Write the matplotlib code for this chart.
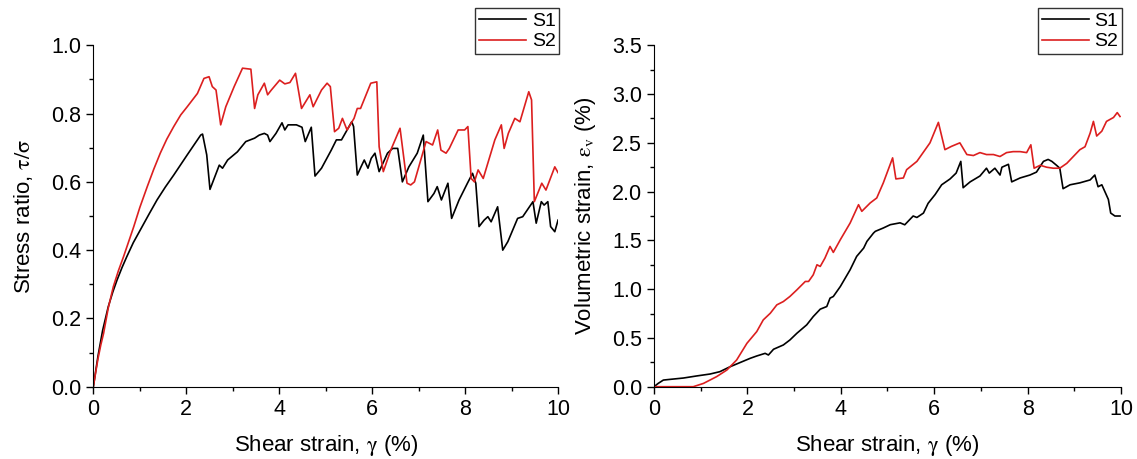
import matplotlib
matplotlib.use("Agg")
import matplotlib.pyplot as plt
from matplotlib.ticker import MultipleLocator

plt.rcParams['font.family'] = ['Liberation Sans', 'DejaVu Sans']
plt.rcParams['mathtext.fontset'] = 'stix'

# stress ratio vs shear strain
s1_x = [0, 0.05, 0.1, 0.2, 0.32, 0.42, 0.51, 0.62, 0.72, 0.86, 1.01, 1.2, 1.37, 1.55, 1.73,
        2.02, 2.31, 2.35, 2.44, 2.51, 2.60, 2.71, 2.78,
        2.89, 3.10, 3.28, 3.47, 3.57, 3.68, 3.75, 3.80, 3.93, 4.06, 4.12, 4.19, 4.37, 4.49,
        4.56, 4.69, 4.77, 4.91, 5.12, 5.23, 5.34, 5.56, 5.60, 5.68, 5.76, 5.83, 5.91, 5.98,
        6.06, 6.15, 6.33, 6.44, 6.55, 6.65, 6.79, 6.97, 7.10, 7.20, 7.33, 7.40, 7.49, 7.63,
        7.71, 7.87, 8.05, 8.16, 8.23, 8.30, 8.41, 8.49, 8.56, 8.70, 8.81, 8.92, 9.13, 9.24,
        9.46, 9.53, 9.64, 9.70, 9.78, 9.84, 9.93, 10.0]
s1_y = [0, 0.045, 0.09, 0.165, 0.234, 0.278, 0.3125, 0.35, 0.381, 0.422, 0.459, 0.506, 0.547,
        0.585, 0.62, 0.679, 0.737, 0.74, 0.679, 0.578, 0.61,
        0.649, 0.64, 0.664, 0.688, 0.718, 0.728, 0.737, 0.742, 0.737, 0.718, 0.742, 0.773,
        0.752, 0.767, 0.767, 0.76, 0.718, 0.76, 0.617, 0.64, 0.693, 0.723, 0.723, 0.776,
        0.762, 0.62, 0.644, 0.664, 0.64, 0.669, 0.684, 0.63, 0.684, 0.698, 0.698, 0.60,
        0.644, 0.684, 0.737, 0.542, 0.566, 0.586, 0.547, 0.596, 0.493, 0.547, 0.596, 0.625,
        0.596, 0.469, 0.488, 0.498, 0.483, 0.527, 0.40, 0.425, 0.493, 0.498, 0.542, 0.479,
        0.542, 0.532, 0.542, 0.469, 0.454, 0.488]

s2_x = [0, 0.05, 0.1, 0.16, 0.22, 0.32, 0.43, 0.54, 0.65, 0.76, 0.87, 1.0, 1.16, 1.3, 1.44,
        1.58, 1.73, 1.88, 2.02, 2.24, 2.38, 2.49, 2.56, 2.64,
        2.74, 2.85, 3.03, 3.21, 3.39, 3.47, 3.54, 3.68, 3.75, 3.83, 4.01, 4.12, 4.23, 4.35,
        4.48, 4.66, 4.73, 4.91, 5.03, 5.10, 5.19, 5.28, 5.36, 5.46, 5.61, 5.68, 5.75, 5.97,
        6.10, 6.15, 6.24, 6.40, 6.60, 6.75, 6.83, 6.91, 7.16, 7.30, 7.41, 7.48, 7.59, 7.66,
        7.85, 7.99, 8.06, 8.13, 8.20, 8.28, 8.39, 8.64, 8.78, 8.84, 8.93, 9.07, 9.18, 9.37,
        9.43, 9.49, 9.65, 9.74, 9.93, 10.0]
s2_y = [0, 0.042, 0.082, 0.122, 0.156, 0.23, 0.293, 0.34, 0.381, 0.425, 0.469, 0.525, 0.586,
        0.637, 0.684, 0.725, 0.762, 0.796, 0.82, 0.859, 0.903, 0.908,
        0.879, 0.869, 0.767, 0.82, 0.879, 0.933, 0.93, 0.815, 0.855, 0.889, 0.855, 0.869,
        0.898, 0.887, 0.891, 0.918, 0.815, 0.855, 0.82, 0.869, 0.889, 0.879, 0.747, 0.757,
        0.786, 0.752, 0.786, 0.815, 0.815, 0.889, 0.893, 0.703, 0.63, 0.693, 0.757, 0.596,
        0.591, 0.60, 0.718, 0.708, 0.752, 0.693, 0.684, 0.698, 0.752, 0.752, 0.762, 0.61,
        0.60, 0.635, 0.61, 0.723, 0.767, 0.698, 0.742, 0.786, 0.776, 0.864, 0.84, 0.542,
        0.596, 0.576, 0.644, 0.627]

# volumetric strain vs shear strain
v1_x = [0, 0.09, 0.2, 0.34, 0.63, 0.91, 1.2, 1.41, 1.63, 1.84, 2.06, 2.2, 2.38, 2.45, 2.56,
        2.77, 2.91, 3.06, 3.27, 3.41, 3.56, 3.7, 3.77, 3.84, 3.99, 4.2, 4.34, 4.49, 4.56,
        4.7, 4.74, 4.91, 5.06, 5.27, 5.37, 5.55, 5.63, 5.77, 5.87, 6.02, 6.16, 6.34, 6.47,
        6.57, 6.62, 6.77, 6.98, 7.12, 7.18, 7.30, 7.41, 7.45, 7.59, 7.66, 7.84, 8.05, 8.19,
        8.34, 8.44, 8.52, 8.62, 8.69, 8.76, 8.91, 9.12, 9.34, 9.44, 9.51, 9.59, 9.73, 9.78,
        9.87, 9.98]
v1_y = [0, 0.034, 0.068, 0.075, 0.089, 0.11, 0.13, 0.154, 0.205, 0.247, 0.291, 0.315, 0.342,
        0.325, 0.384, 0.428, 0.479, 0.548, 0.634, 0.719, 0.795, 0.822, 0.908, 0.925, 1.027,
        1.199, 1.336, 1.421, 1.49, 1.575, 1.593, 1.627, 1.661, 1.68, 1.66, 1.75, 1.735, 1.78,
        1.88, 1.97, 2.07, 2.13, 2.19, 2.31, 2.04, 2.10, 2.16, 2.24, 2.19, 2.24, 2.17, 2.25,
        2.28, 2.10, 2.14, 2.17, 2.20, 2.31, 2.33, 2.31, 2.27, 2.24, 2.03, 2.07, 2.09, 2.12,
        2.17, 2.05, 2.07, 1.92, 1.78, 1.75, 1.75]

v2_x = [0, 0.27, 0.84, 1.06, 1.34, 1.56, 1.77, 1.99, 2.2, 2.34, 2.49, 2.63, 2.77, 2.91, 3.06,
        3.24, 3.31, 3.41, 3.49, 3.56, 3.66, 3.77, 3.84, 3.99, 4.2, 4.38, 4.45, 4.63, 4.77,
        4.91, 5.11, 5.18, 5.34, 5.41, 5.63, 5.91, 6.09, 6.23, 6.37, 6.55, 6.70, 6.84, 6.98,
        7.12, 7.27, 7.41, 7.55, 7.69, 7.84, 7.98, 8.07, 8.14, 8.27, 8.41, 8.55, 8.69, 8.84,
        8.98, 9.12, 9.23, 9.34, 9.41, 9.48, 9.59, 9.69, 9.84, 9.92, 9.98]
v2_y = [0, 0, 0, 0.034, 0.103, 0.171, 0.274, 0.445, 0.565, 0.685, 0.753, 0.839, 0.873, 0.925,
        0.993, 1.079, 1.079, 1.147, 1.25, 1.233, 1.318, 1.438, 1.377, 1.507, 1.678, 1.866,
        1.798, 1.884, 1.935, 2.089, 2.346, 2.13, 2.14, 2.225, 2.31, 2.50, 2.71, 2.43, 2.464,
        2.50, 2.38, 2.37, 2.40, 2.38, 2.38, 2.36, 2.40, 2.41, 2.41, 2.40, 2.48, 2.24, 2.27,
        2.25, 2.24, 2.24, 2.29, 2.36, 2.43, 2.46, 2.60, 2.72, 2.57, 2.62, 2.72, 2.76, 2.81,
        2.77]

red = '#dc1f1f'
fig = plt.figure(figsize=(11.37, 4.59), dpi=100)
ax1 = fig.add_axes([0.0821, 0.1575, 0.4087, 0.7438])
ax2 = fig.add_axes([0.5752, 0.1575, 0.4107, 0.7438])

ax1.plot(s1_x, s1_y, color='black', lw=1.2, label='S1')
ax1.plot(s2_x, s2_y, color=red, lw=1.2, label='S2')
ax2.plot(v1_x, v1_y, color='black', lw=1.2, label='S1')
ax2.plot(v2_x, v2_y, color=red, lw=1.2, label='S2')

ax1.set_ylim(0, 1.0)
ax1.yaxis.set_major_locator(MultipleLocator(0.2))
ax1.yaxis.set_minor_locator(MultipleLocator(0.1))
ax1.set_ylabel(r'Stress ratio, $\mathrm{\tau/\sigma}$', fontsize=16, labelpad=12)

ax2.set_ylim(0, 3.5)
ax2.yaxis.set_major_locator(MultipleLocator(0.5))
ax2.yaxis.set_minor_locator(MultipleLocator(0.25))
ax2.set_ylabel(r'Volumetric strain, $\mathrm{\varepsilon_v}$ (%)', fontsize=16, labelpad=10)

for ax in (ax1, ax2):
    ax.set_xlim(0, 10)
    ax.xaxis.set_major_locator(MultipleLocator(2))
    ax.xaxis.set_minor_locator(MultipleLocator(1))
    ax.set_xlabel(r'Shear strain, $\mathrm{\gamma}$ (%)', fontsize=16, labelpad=10)
    ax.spines['top'].set_visible(False)
    ax.spines['right'].set_visible(False)
    ax.tick_params(which='major', direction='out', length=5, width=1, labelsize=15.5)
    ax.tick_params(which='minor', direction='out', length=3, width=1)
    leg = ax.legend(loc='upper right', bbox_to_anchor=(1.003, 1.108), borderaxespad=0,
                    fancybox=False, edgecolor='black', fontsize=14, handlelength=2.4,
                    borderpad=0.2, labelspacing=0.15, handletextpad=0.3)
    leg.get_frame().set_linewidth(1.0)

fig.savefig('out.png', dpi=100)
